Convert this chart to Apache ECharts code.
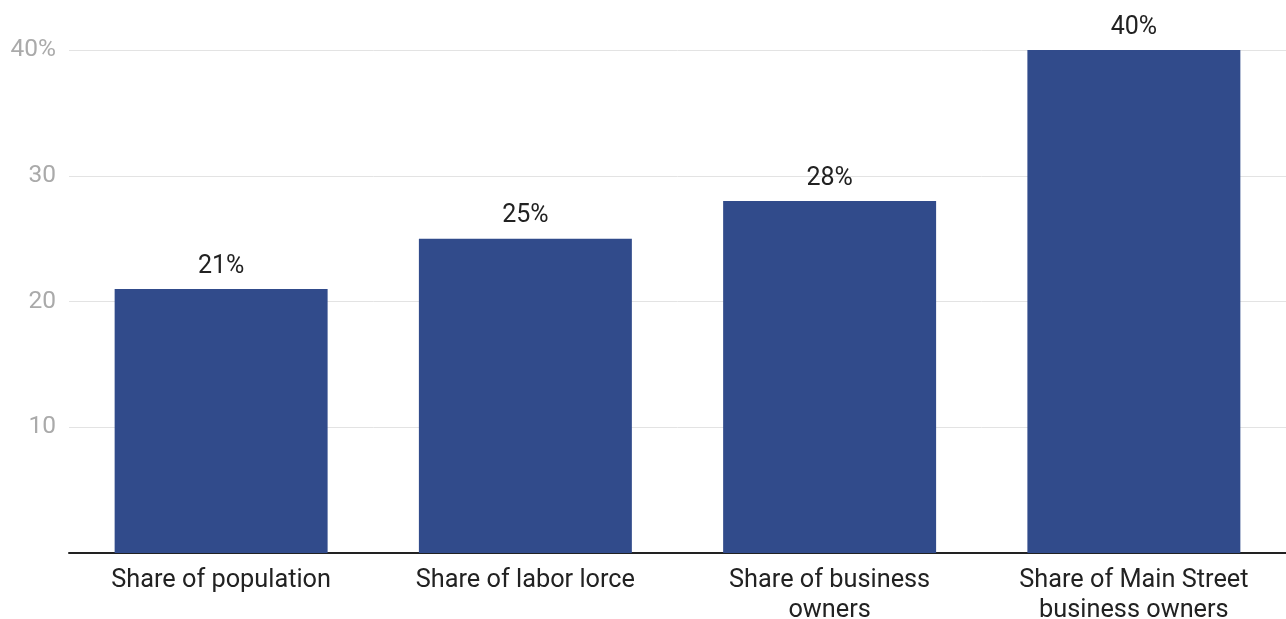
<!DOCTYPE html>
<html><head><meta charset="utf-8">
<script src="https://cdn.jsdelivr.net/npm/echarts@6/dist/echarts.min.js"></script>
<style>html,body{margin:0;padding:0;background:#fff;overflow:hidden}#c{width:1286px;height:619px}</style>
</head><body><div id="c"></div>
<script>
const categories = ["Share of population", "Share of labor lorce", "Share of business\nowners", "Share of Main Street\nbusiness owners"];
const values = [21, 25, 28, 40];
const yTicks = [0, 10, 20, 30, 40];

const chart = echarts.init(document.getElementById('c'));
chart.setOption({
  animation: false,
  textStyle: {fontFamily: 'Roboto'},
  grid: {left: 69, right: 0, top: 50, bottom: 66, containLabel: false, outerBoundsMode: 'none'},
  xAxis: {
    type: 'category', data: categories,
    axisLine: {lineStyle: {color: '#222', width: 2}},
    axisTick: {show: false},
    axisLabel: {fontSize: 25.3, color: '#222', margin: 13, lineHeight: 30, interval: 0}
  },
  yAxis: {
    type: 'value', min: yTicks[0], max: yTicks[yTicks.length-1], interval: 10,
    axisLine: {show: false}, axisTick: {show: false},
    splitLine: {lineStyle: {color: '#e3e3e3', width: 1}},
    axisLabel: {fontSize: 24.5, color: '#aaa', margin: 13,
      formatter: v => v === 0 ? '' : (v === 40 ? v + '%' : String(v))}
  },
  series: [{
    type: 'bar', data: values, barCategoryGap: '30%',
    itemStyle: {color: '#314b8b'},
    label: {show: true, position: 'top', distance: 10, fontSize: 25, color: '#222', formatter: p => p.value + '%'}
  }]
});
</script></body></html>
